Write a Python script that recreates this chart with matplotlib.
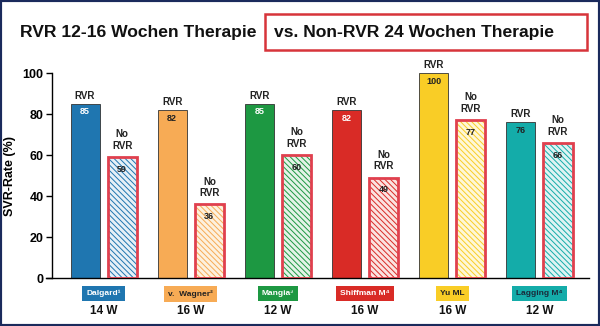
import numpy as np
import matplotlib.pyplot as plt
from matplotlib.patches import Rectangle
from matplotlib.transforms import blended_transform_factory

# data
studies = ['Dalgard\u00b9', 'v.  Wagner\u00b2', 'Mangia\u00b3', 'Shiffman M\u2074', 'Yu ML', 'Lagging M\u2074']
weeks = ['14 W', '16 W', '12 W', '16 W', '16 W', '12 W']
rvr = [85, 82, 85, 82, 100, 76]
no_rvr = [59, 36, 60, 49, 77, 66]

colors = ['#1f76b0', '#f7ab55', '#1d9842', '#d92b26', '#f9cd26', '#14aca9']
light = ['#e6f0f7', '#fdf1df', '#e4f3e7', '#fbe3e1', '#fef7d8', '#dff3f3']
rvr_txt = ['white', '#222222', 'white', 'white', '#222222', '#222222']
box_txt = ['white', '#222222', 'white', 'white', '#222222', '#1a2a3a']
red_edge = '#e0404e'

plt.rcParams['font.family'] = ['Liberation Sans', 'DejaVu Sans']
plt.rcParams['hatch.linewidth'] = 0.7

fig = plt.figure(figsize=(6, 3.26), dpi=100)
ax = fig.add_axes([0.0867, 0.147, 0.895, 0.629])

x = np.arange(len(studies))
w = 0.333
off = 0.213

ax.bar(x - off, rvr, w, color=colors, edgecolor='#333333', linewidth=0.6, zorder=2)
# hatched bars: hatch in study colour, red outline on top
for i in range(len(x)):
    ax.bar(x[i] + off, no_rvr[i], w, color=light[i], edgecolor=colors[i],
           hatch='\\\\\\\\\\\\', linewidth=0, zorder=2)
ax.bar(x + off, no_rvr, w, fill=False, edgecolor=red_edge, linewidth=2, zorder=3)

for i in range(len(x)):
    ax.text(x[i] - off, rvr[i] + 1.5, 'RVR', ha='center', va='bottom',
            fontsize=7, fontweight='bold', color='#222222', clip_on=False)
    ax.text(x[i] - off, rvr[i] - 4, str(rvr[i]), ha='center', va='center',
            fontsize=6.5, fontweight='bold', color=rvr_txt[i], zorder=4)
    ax.text(x[i] + off, no_rvr[i] + 3, 'No\nRVR', ha='center', va='bottom',
            fontsize=7, fontweight='bold', color='#222222', linespacing=1.2)
    ax.text(x[i] + off, no_rvr[i] - 6, str(no_rvr[i]), ha='center', va='center',
            fontsize=6.5, fontweight='bold', color='#222222', zorder=4)

trans = blended_transform_factory(ax.transData, ax.transAxes)
for i in range(len(x)):
    ax.text(x[i], -0.076, studies[i], transform=trans, ha='center', va='center',
            fontsize=6, fontweight='bold', color=box_txt[i],
            bbox=dict(boxstyle='square,pad=0.5', fc=colors[i], ec='none'))
    ax.text(x[i], -0.16, weeks[i], transform=trans, ha='center', va='center',
            fontsize=8.5, fontweight='bold', color='#111111')

ax.set_xlim(-0.592, 5.569)
ax.set_ylim(0, 100)
ax.set_yticks([0, 20, 40, 60, 80, 100])
ax.set_xticks([])
for lbl in ax.get_yticklabels():
    lbl.set_fontweight('bold')
ax.tick_params(axis='y', labelsize=9, length=4, width=1, direction='out', pad=2)
ax.set_ylabel('SVR-Rate (%)', fontsize=9, fontweight='bold', labelpad=5)
ax.spines['top'].set_visible(False)
ax.spines['right'].set_visible(False)
ax.spines['left'].set_linewidth(1)
ax.spines['bottom'].set_linewidth(1)
ax.spines['bottom'].set_bounds(-0.66, 5.569)

fig.text(0.033, 0.899, 'RVR 12-16 Wochen Therapie', fontsize=12.6, fontweight='bold',
         ha='left', va='center', color='#111111')
fig.text(0.457, 0.899, 'vs. Non-RVR 24 Wochen Therapie', fontsize=12.6, fontweight='bold',
         ha='left', va='center', color='#111111')
fig.patches.append(Rectangle((265 / 600, 1 - 50 / 326), 322 / 600, 36 / 326,
                             transform=fig.transFigure, fill=False,
                             edgecolor='#d7343a', linewidth=1.8))
fig.patches.append(Rectangle((0, 0), 1, 1, transform=fig.transFigure, fill=False,
                             edgecolor='#1a2a5c', linewidth=3))

fig.savefig('out.png', dpi=100)
